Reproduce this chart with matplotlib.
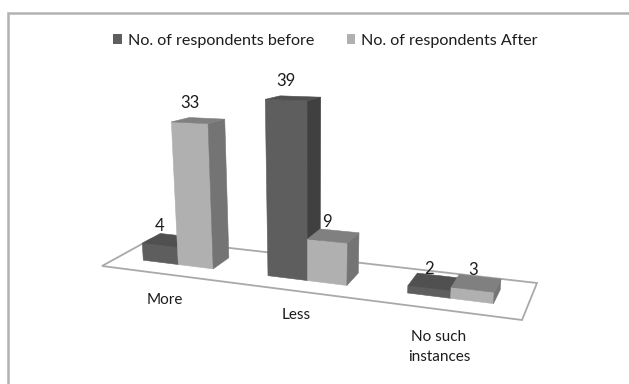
import matplotlib
matplotlib.use("Agg")
import matplotlib.pyplot as plt
from matplotlib.patches import Polygon, Patch

# values
categories = ["More", "Less", "No such\ninstances"]
before = [4, 39, 2]
after = [33, 9, 3]
series_names = ["No. of respondents before", "No. of respondents After"]

# floor corners in pixels
FL = (102, 266)
FR = (522, 320)
BL = (151, 239)
BR = (537, 283)

# bar placement on the floor, 0-1 across and 0-1 into the depth
CAT_CENTER = [0.147, 0.463, 0.813]
BAR_W = [0.0855, 0.0965, 0.105]
V_FRONT = 0.33
V_BACK = 0.71
CAT_SCALE = [1.0, 1.0, 0.75]
VANISH_X = 310
VANISH_Y = 3000

COL_BEFORE = ("#5e5e5e", "#404040", "#505050")
COL_AFTER = ("#b0b0b0", "#747474", "#808080")
EDGE = "#a9a9a9"
FONT = "Lato"
TXT = "#1c1c1c"


def floor(u, v):
    fx = FL[0] + (FR[0] - FL[0]) * u
    fy = FL[1] + (FR[1] - FL[1]) * u
    bx = BL[0] + (BR[0] - BL[0]) * u
    by = BL[1] + (BR[1] - BL[1]) * u
    return fx + (bx - fx) * v, fy + (by - fy) * v


def point(u, v, h, cat):
    x, y = floor(u, v)
    # pixels per respondent shrink towards the back of the floor
    k = (4.06 + 0.018 * (y - 250)) * CAT_SCALE[cat]
    lift = k * h
    lean = (x - VANISH_X) / (VANISH_Y - y) * lift
    return x + lean, y - lift


def draw_bar(ax, u0, u1, h, cat, cols):
    front = [point(u0, V_FRONT, 0, cat), point(u1, V_FRONT, 0, cat),
             point(u1, V_FRONT, h, cat), point(u0, V_FRONT, h, cat)]
    side = [point(u1, V_FRONT, 0, cat), point(u1, V_BACK, 0, cat),
            point(u1, V_BACK, h, cat), point(u1, V_FRONT, h, cat)]
    top = [point(u0, V_FRONT, h, cat), point(u1, V_FRONT, h, cat),
           point(u1, V_BACK, h, cat), point(u0, V_BACK, h, cat)]
    for pts, c in zip((front, side, top), cols):
        ax.add_patch(Polygon(pts, closed=True, facecolor=c, edgecolor=c, linewidth=0.4))
    tx, ty = point((u0 + u1) / 2, V_FRONT, h, cat)
    ax.text(tx, ty - 19.5, str(h), ha="center", va="center", fontsize=12,
            family=FONT, color=TXT)


fig = plt.figure(figsize=(6.29, 3.84), dpi=100)
ax = fig.add_axes([0, 0, 1, 1])
ax.set_xlim(0, 629)
ax.set_ylim(384, 0)
ax.axis("off")

# chart frame, only the top and left edges are in view
ax.plot([8, 8, 629], [384, 13, 13], color="#b2b2b2", linewidth=1.8, solid_joinstyle="miter")

ax.add_patch(Polygon([FL, FR, BR, BL], closed=True, facecolor="white",
                     edgecolor=EDGE, linewidth=1.3))

for i in range(len(categories)):
    c = CAT_CENTER[i]
    w = BAR_W[i]
    draw_bar(ax, c - w, c, before[i], i, COL_BEFORE)
    draw_bar(ax, c, c + w, after[i], i, COL_AFTER)

# category names under the floor
ax.text(165, 300, categories[0], ha="center", va="center", fontsize=11, family=FONT, color=TXT)
ax.text(296, 315, categories[1], ha="center", va="center", fontsize=11, family=FONT, color=TXT)
ax.text(439, 347, categories[2], ha="center", va="center", fontsize=11, family=FONT,
        color=TXT, linespacing=1.5)

handles = [Patch(facecolor=COL_BEFORE[0], label=series_names[0]),
           Patch(facecolor=COL_AFTER[0], label=series_names[1])]
ax.legend(handles=handles, ncol=2, frameon=False, loc="center", bbox_to_anchor=(0.5175, 1 - 40.5 / 384),
          prop={"family": FONT, "size": 11.6}, handlelength=0.55, handleheight=0.6,
          handletextpad=0.35, columnspacing=2.0, labelcolor=TXT)

fig.savefig("out.png", dpi=100)
